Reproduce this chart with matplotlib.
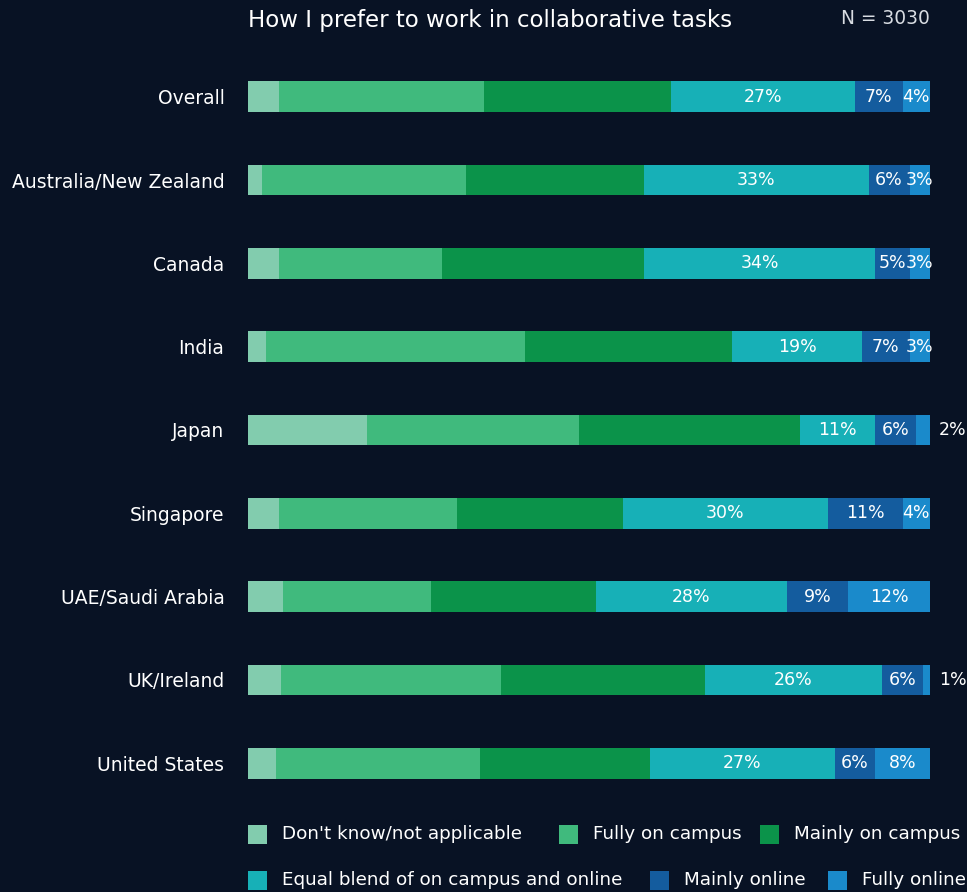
import matplotlib
matplotlib.use("Agg")
import matplotlib.pyplot as plt
from matplotlib.patches import Rectangle
import numpy as np

plt.rcParams['font.family'] = ['DejaVu Sans']

categories = ["Overall", "Australia/New Zealand", "Canada", "India", "Japan",
              "Singapore", "UAE/Saudi Arabia", "UK/Ireland", "United States"]
series_names = ["Don't know/not applicable", "Fully on campus", "Mainly on campus",
                "Equal blend of on campus and online", "Mainly online", "Fully online"]
dont_know      = [4.5, 2, 4.5, 2.6, 17.5, 4.6, 5.2, 4.8, 4.1]
fully_campus   = [30.1, 30, 24, 38, 31.1, 26.1, 21.7, 32.3, 29.9]
mainly_campus  = [27.4, 26, 29.5, 30.4, 32.4, 24.3, 24.1, 29.9, 25]
equal_blend    = [27, 33, 34, 19, 11, 30, 28, 26, 27]
mainly_online  = [7, 6, 5, 7, 6, 11, 9, 6, 6]
fully_online   = [4, 3, 3, 3, 2, 4, 12, 1, 8]
n_label = "N = 3030"
title = "How I prefer to work in collaborative tasks"

colors = ["#82CCAE", "#40BA7D", "#0B934A", "#17B0B7", "#145C9E", "#1A8ACB"]
bg = "#081224"
series = [dont_know, fully_campus, mainly_campus, equal_blend, mainly_online, fully_online]
labeled = [3, 4, 5]

W, H = 967, 892
fig = plt.figure(figsize=(W / 100, H / 100), dpi=100, facecolor=bg)
ax = fig.add_axes([248 / W, 1 - 805 / H, (930 - 248) / W, 750 / H])
ax.set_facecolor(bg)

y = np.arange(len(categories))
left = np.zeros(len(categories))
for si, (vals, col) in enumerate(zip(series, colors)):
    vals = np.array(vals, dtype=float)
    ax.barh(y, vals, left=left, height=0.37, color=col, edgecolor='none')
    if si in labeled:
        for i, v in enumerate(vals):
            txt = f"{v:.0f}%"
            if v >= 3:
                ax.text(left[i] + v / 2, y[i], txt, ha='center', va='center',
                        color='white', fontsize=12.5)
            else:
                ax.text(left[i] + v + 1.3, y[i], txt, ha='left', va='center',
                        color='white', fontsize=12.5)
    left += vals

ax.set_xlim(0, 100)
ax.set_ylim(len(categories) - 0.5, -0.5)
ax.set_yticks(y)
ax.set_yticklabels(categories, color='white', fontsize=13.5)
ax.tick_params(axis='y', length=0, pad=17)
ax.set_xticks([])
for s in ax.spines.values():
    s.set_visible(False)

fig.text(248 / W, 1 - 20 / H, title, color='white', fontsize=16.5,
         ha='left', va='center')
fig.text(930 / W, 1 - 18 / H, n_label, color='#D8DCE2', fontsize=13.4,
         ha='right', va='center')

# legend (flow layout, two rows)
rows = [[0, 1, 2], [3, 4, 5]]
row_y = [834, 880]
sq = 19
xstarts = {0: 248, 1: 559, 2: 760, 3: 248, 4: 650, 5: 828}
for ri, idxs in enumerate(rows):
    yc = row_y[ri]
    for k in idxs:
        x0 = xstarts[k]
        fig.patches.append(Rectangle((x0 / W, 1 - (yc + sq / 2) / H), sq / W, sq / H,
                                     transform=fig.transFigure, facecolor=colors[k],
                                     edgecolor='none'))
        fig.text((x0 + 34) / W, 1 - yc / H, series_names[k], color='white',
                 fontsize=13.2, ha='left', va='center')

fig.savefig("out.png", dpi=100, facecolor=bg)
